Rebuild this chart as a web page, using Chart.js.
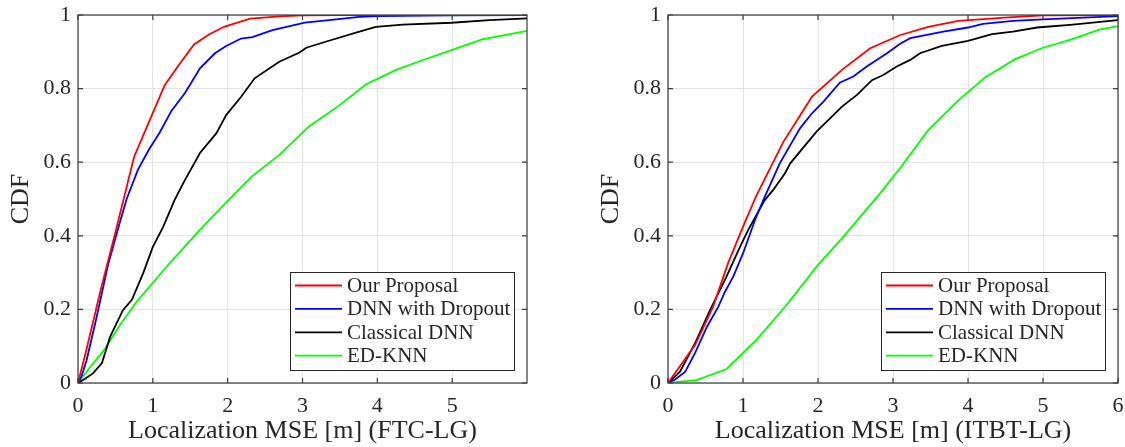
<!DOCTYPE html>
<html>
<head>
<meta charset="utf-8">
<script src="https://cdn.jsdelivr.net/npm/chart.js@4.4.1/dist/chart.umd.min.js"></script>
<style>
  html, body { margin: 0; padding: 0; background: #fff; }
  #wrap { position: relative; width: 1125px; height: 447px; }
  canvas { position: absolute; top: 0; }
  #ftcChart { left: 0; }
  #itbtChart { left: 590px; }
</style>
</head>
<body>
<div id="wrap">
  <canvas id="ftcChart" width="560" height="447"></canvas>
  <canvas id="itbtChart" width="535" height="447"></canvas>
</div>
<script>
// ---- series (MSE in metres vs. CDF) ----
const seriesNames = ['Our Proposal', 'DNN with Dropout', 'Classical DNN', 'ED-KNN'];
const seriesColors = ['#ff0000', '#0000ff', '#000000', '#00ff00'];

// FTC-LG
const ftcProposalX = [0, 0.1, 0.3, 0.5, 0.75, 0.95, 1.16, 1.35, 1.55, 1.75, 1.95, 2.3, 2.7, 3.0, 3.5, 4.0, 5.0, 6.0];
const ftcProposalY = [0, 0.08, 0.25, 0.41, 0.615, 0.71, 0.81, 0.865, 0.92, 0.947, 0.968, 0.99, 0.996, 0.999, 1, 1, 1, 1];
const ftcDropoutX = [0, 0.05, 0.115, 0.25, 0.4, 0.55, 0.65, 0.8, 0.95, 1.09, 1.25, 1.43, 1.63, 1.83, 1.98, 2.18, 2.33, 2.6, 3.03, 3.45, 3.76, 4.0, 5.0, 6.0];
const ftcDropoutY = [0, 0.02, 0.062, 0.18, 0.32, 0.43, 0.5, 0.579, 0.635, 0.68, 0.74, 0.788, 0.855, 0.896, 0.916, 0.936, 0.94, 0.959, 0.979, 0.988, 0.995, 0.997, 0.999, 1];
const ftcClassicX = [0, 0.1, 0.2, 0.32, 0.43, 0.6, 0.72, 0.87, 1.0, 1.14, 1.29, 1.43, 1.63, 1.85, 1.98, 2.18, 2.36, 2.69, 2.96, 3.05, 3.32, 3.76, 3.98, 4.34, 4.99, 5.5, 6.0];
const ftcClassicY = [0, 0.012, 0.026, 0.054, 0.126, 0.198, 0.226, 0.298, 0.37, 0.425, 0.497, 0.552, 0.625, 0.679, 0.728, 0.778, 0.828, 0.873, 0.898, 0.911, 0.928, 0.955, 0.968, 0.974, 0.979, 0.986, 0.991];
const ftcKnnX = [0, 0.15, 0.35, 0.55, 0.78, 1.2, 1.6, 2.0, 2.32, 2.69, 3.09, 3.47, 3.85, 4.25, 4.6, 5.0, 5.4, 6.0];
const ftcKnnY = [0, 0.04, 0.09, 0.155, 0.22, 0.32, 0.41, 0.495, 0.561, 0.62, 0.698, 0.751, 0.812, 0.851, 0.877, 0.905, 0.934, 0.957];

// ITBT-LG
const itbtProposalX = [0, 0.36, 0.6, 0.8, 1.0, 1.18, 1.54, 1.92, 2.32, 2.69, 3.09, 3.47, 3.87, 4.49, 5.0, 6.0];
const itbtProposalY = [0, 0.103, 0.207, 0.325, 0.425, 0.51, 0.656, 0.778, 0.851, 0.909, 0.945, 0.968, 0.984, 0.993, 0.999, 1];
const itbtDropoutX = [0, 0.1, 0.23, 0.36, 0.52, 0.67, 0.76, 0.87, 1.0, 1.16, 1.27, 1.49, 1.76, 1.92, 2.07, 2.29, 2.47, 2.65, 2.92, 3.09, 3.23, 3.67, 4.0, 4.2, 4.6, 5.0, 6.0];
const itbtDropoutY = [0, 0.01, 0.031, 0.081, 0.153, 0.207, 0.248, 0.289, 0.352, 0.443, 0.497, 0.597, 0.692, 0.733, 0.764, 0.816, 0.833, 0.86, 0.896, 0.921, 0.937, 0.955, 0.966, 0.976, 0.984, 0.988, 0.997];
const itbtClassicX = [0, 0.16, 0.36, 0.56, 0.78, 0.96, 1.07, 1.18, 1.29, 1.4, 1.56, 1.63, 1.98, 2.32, 2.52, 2.72, 2.87, 3.05, 3.23, 3.36, 3.65, 4.0, 4.32, 4.6, 4.92, 5.36, 6.0];
const itbtClassicY = [0, 0.031, 0.108, 0.198, 0.289, 0.37, 0.416, 0.457, 0.497, 0.524, 0.57, 0.597, 0.683, 0.751, 0.783, 0.823, 0.837, 0.86, 0.878, 0.896, 0.916, 0.93, 0.948, 0.955, 0.966, 0.973, 0.986];
const itbtKnnX = [0, 0.38, 0.78, 1.18, 1.58, 2.0, 2.34, 2.83, 3.09, 3.47, 3.85, 4.23, 4.63, 5.0, 5.38, 5.76, 6.0];
const itbtKnnY = [0, 0.008, 0.038, 0.117, 0.212, 0.321, 0.398, 0.516, 0.583, 0.687, 0.764, 0.831, 0.88, 0.911, 0.934, 0.961, 0.97];

// ---- ticks ----
const ftcXTicks = [0, 1, 2, 3, 4, 5];
const itbtXTicks = [0, 1, 2, 3, 4, 5, 6];
const yTicks = [0, 0.2, 0.4, 0.6, 0.8, 1];
const yTickLabels = ['0', '0.2', '0.4', '0.6', '0.8', '1'];

const serif = "'Liberation Serif', 'Times New Roman', serif";
const textColor = '#262626';
const lineW = 1.8;

function toPoints(xs, ys) {
  return xs.map((x, i) => ({ x: x, y: ys[i] }));
}

function makeDatasets(pairs) {
  return pairs.map((p, i) => ({
    label: seriesNames[i],
    data: toPoints(p[0], p[1]),
    borderColor: seriesColors[i],
    backgroundColor: seriesColors[i],
    borderWidth: lineW,
    pointRadius: 0,
    tension: 0,
    fill: false
  }));
}

// axes box with inward ticks, MATLAB style
const boxPlugin = {
  id: 'axesBox',
  afterDatasetsDraw(chart) {
    const ctx = chart.ctx;
    const a = chart.chartArea;
    const xs = chart.scales.x, ys = chart.scales.y;
    ctx.save();
    ctx.strokeStyle = '#3a3a3a';
    ctx.lineWidth = 1.2;
    ctx.strokeRect(a.left, a.top, a.right - a.left, a.bottom - a.top);
    ctx.beginPath();
    xs.ticks.forEach(t => {
      const px = xs.getPixelForValue(t.value);
      ctx.moveTo(px, a.bottom); ctx.lineTo(px, a.bottom - 5);
      ctx.moveTo(px, a.top); ctx.lineTo(px, a.top + 5);
    });
    ys.ticks.forEach(t => {
      const py = ys.getPixelForValue(t.value);
      ctx.moveTo(a.left, py); ctx.lineTo(a.left + 5, py);
      ctx.moveTo(a.right, py); ctx.lineTo(a.right - 5, py);
    });
    ctx.stroke();
    ctx.restore();
  }
};

// legend box in the lower right corner of the axes
const legendBoxPlugin = {
  id: 'legendBox',
  afterDraw(chart) {
    const ctx = chart.ctx;
    const a = chart.chartArea;
    const w = 224, h = 98;
    const left = a.right - 13 - w, top = a.bottom - 13 - h;
    ctx.save();
    ctx.fillStyle = '#fff';
    ctx.fillRect(left, top, w, h);
    ctx.strokeStyle = '#262626';
    ctx.lineWidth = 1;
    ctx.strokeRect(left + 0.5, top + 0.5, w, h);
    ctx.font = '21px ' + serif;
    ctx.textBaseline = 'middle';
    chart.data.datasets.forEach((ds, i) => {
      const y = top + 13.5 + i * 23.4;
      ctx.strokeStyle = ds.borderColor;
      ctx.lineWidth = lineW;
      ctx.beginPath();
      ctx.moveTo(left + 5, y);
      ctx.lineTo(left + 52, y);
      ctx.stroke();
      ctx.fillStyle = textColor;
      ctx.fillText(ds.label, left + 57, y + 1);
    });
    ctx.restore();
  }
};

function renderizar_cdf(canvasId, pairs, xTicks, xTitle, rightPad) {
  const ctx = document.getElementById(canvasId).getContext('2d');
  new Chart(ctx, {
    type: 'line',
    data: { datasets: makeDatasets(pairs) },
    options: {
      responsive: false,
      animation: false,
      layout: { padding: { top: 15, right: rightPad, left: 0, bottom: 0 } },
      plugins: { legend: { display: false }, tooltip: { enabled: false } },
      scales: {
        x: {
          type: 'linear',
          min: 0,
          max: 6,
          afterBuildTicks: s => { s.ticks = xTicks.map(v => ({ value: v })); },
          afterFit: s => { s.height = 64; s.paddingLeft = 0; s.paddingRight = 0; },
          grid: { color: '#e3e3e3', lineWidth: 1, drawTicks: false },
          border: { display: false },
          ticks: {
            autoSkip: false,
            maxRotation: 0,
            padding: 10,
            color: textColor,
            font: { family: serif, size: 22 },
            callback: v => String(v)
          },
          title: {
            display: true,
            text: xTitle,
            color: textColor,
            font: { family: serif, size: 26 },
            padding: { top: 0, bottom: 0 }
          }
        },
        y: {
          type: 'linear',
          min: 0,
          max: 1,
          afterBuildTicks: s => { s.ticks = yTicks.map(v => ({ value: v })); },
          afterFit: s => { s.width = 78; s.paddingTop = 0; s.paddingBottom = 0; },
          grid: { color: '#e3e3e3', lineWidth: 1, drawTicks: false },
          border: { display: false },
          ticks: {
            autoSkip: false,
            padding: 7,
            color: textColor,
            font: { family: serif, size: 22 },
            callback: v => yTickLabels[yTicks.indexOf(v)]
          },
          title: {
            display: true,
            text: 'CDF',
            color: textColor,
            font: { family: serif, size: 26 },
            padding: { top: 6, bottom: 0 }
          }
        }
      }
    },
    plugins: [boxPlugin, legendBoxPlugin]
  });
}

renderizar_cdf('ftcChart', [
  [ftcProposalX, ftcProposalY],
  [ftcDropoutX, ftcDropoutY],
  [ftcClassicX, ftcClassicY],
  [ftcKnnX, ftcKnnY]
], ftcXTicks, 'Localization MSE [m] (FTC-LG)', 33);

renderizar_cdf('itbtChart', [
  [itbtProposalX, itbtProposalY],
  [itbtDropoutX, itbtDropoutY],
  [itbtClassicX, itbtClassicY],
  [itbtKnnX, itbtKnnY]
], itbtXTicks, 'Localization MSE [m] (ITBT-LG)', 7);
</script>
</body>
</html>
